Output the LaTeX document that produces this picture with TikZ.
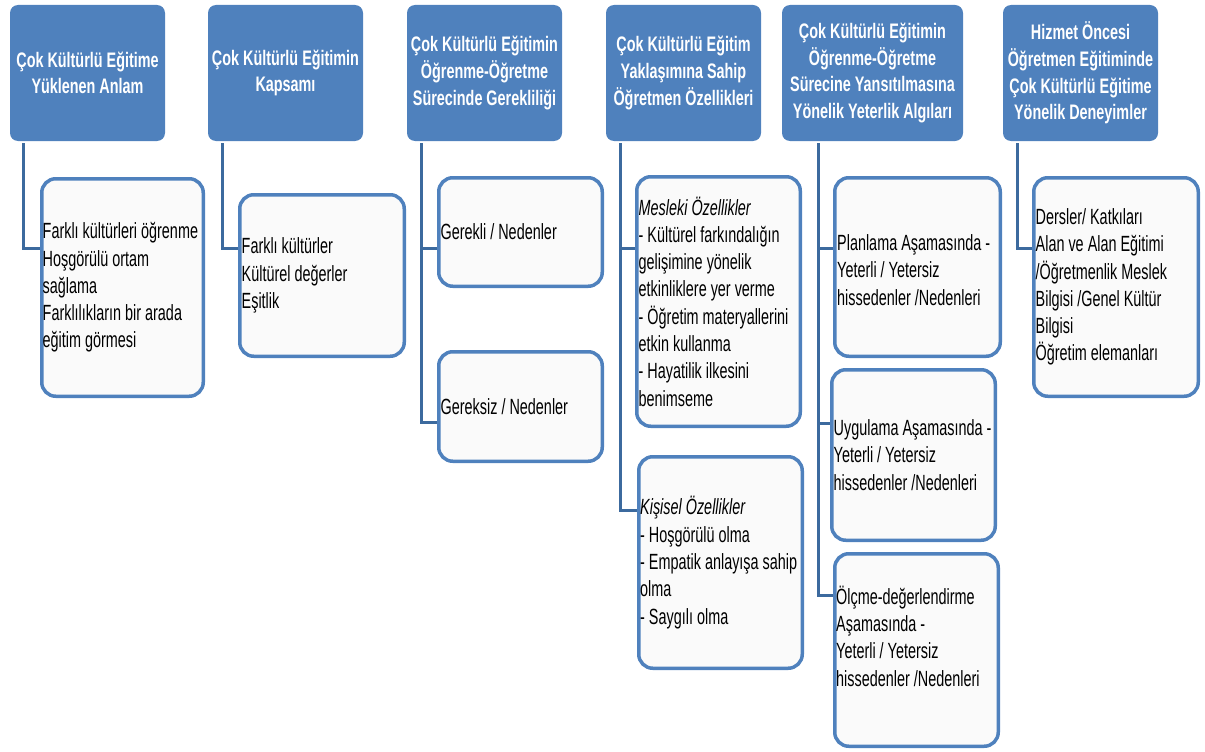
\documentclass[tikz,border=0pt]{standalone}
\usepackage{fontspec}
\setmainfont{Liberation Sans}[FakeStretch=0.655]
\newfontfamily\hdrfont{Liberation Sans}[FakeStretch=0.685]
\definecolor{hdr}{HTML}{4F81BD}
\definecolor{bord}{HTML}{4F81BD}
\definecolor{conn}{HTML}{3C6A9E}
\tikzset{
 hdrbox/.style={rectangle, rounded corners=8pt, fill=hdr, draw=none, text=white,
   font=\hdrfont\bfseries\fontsize{21}{26.7}\selectfont, align=center, inner sep=0pt,
   minimum height=136pt},
 childbox/.style={rectangle, rounded corners=14pt, draw=bord, line width=3.5pt,
   fill=white!98!black, inner sep=0pt},
 lbl/.style={anchor=west, align=left, inner sep=0pt, text=black,
   font=\fontsize{22}{27.3}\selectfont},
 connline/.style={draw=conn, line width=3pt}
}
\begin{document}
\begin{tikzpicture}[x=1pt,y=-1pt]
\useasboundingbox (0,0) rectangle (1205,752);
% headers
\node[hdrbox, minimum width=155pt] (h1) at (87.5,73) {Çok Kültürlü Eğitime\\Yüklenen Anlam};
\node[hdrbox, minimum width=155pt] (h2) at (285.5,73) {Çok Kültürlü Eğitimin\\Kapsamı};
\node[hdrbox, minimum width=155pt] (h3) at (484.5,73) {Çok Kültürlü Eğitimin\\Öğrenme-Öğretme\\Sürecinde Gerekliliği};
\node[hdrbox, minimum width=155pt] (h4) at (683.5,73) {Çok Kültürlü Eğitim\\Yaklaşımına Sahip\\Öğretmen Özellikleri};
\node[hdrbox, minimum width=181pt] (h5) at (872.5,73) {Çok Kültürlü Eğitimin\\Öğrenme-Öğretme\\Sürecine Yansıtılmasına\\Yönelik Yeterlik Algıları};
\node[hdrbox, minimum width=155pt] (h6) at (1080.5,73) {Hizmet Öncesi\\Öğretmen Eğitiminde\\Çok Kültürlü Eğitime\\Yönelik Deneyimler};
% child boxes
\node[childbox, minimum width=161.5pt, minimum height=217.5pt] (c1) at (122.5,287.5) {};
\node[childbox, minimum width=164.5pt, minimum height=161.5pt] (c2) at (322,275.5) {};
\node[childbox, minimum width=163.5pt, minimum height=108.5pt] (c3a) at (520.5,232) {};
\node[childbox, minimum width=163.5pt, minimum height=109.5pt] (c3b) at (520.5,406.5) {};
\node[childbox, minimum width=163.5pt, minimum height=249.5pt] (c4a) at (718.5,301.5) {};
\node[childbox, minimum width=163.5pt, minimum height=211.5pt] (c4b) at (720.5,562.5) {};
\node[childbox, minimum width=165.5pt, minimum height=178.5pt] (c5a) at (917.5,267) {};
\node[childbox, minimum width=163.5pt, minimum height=170.5pt] (c5b) at (913.5,455) {};
\node[childbox, minimum width=163.5pt, minimum height=192.5pt] (c5c) at (916.5,650) {};
\node[childbox, minimum width=164.5pt, minimum height=218.5pt] (c6) at (1116,287) {};
% labels
\node[lbl] (t1) at ([xshift=2.5pt]c1.west) {Farklı kültürleri öğrenme\\Hoşgörülü ortam\\sağlama\\Farklılıkların bir arada\\eğitim görmesi};
\node[lbl] (t2) at ([xshift=3.5pt]c2.west) {Farklı kültürler\\Kültürel değerler\\Eşitlik};
\node[lbl] (t3a) at ([xshift=3.5pt]c3a.west) {Gerekli / Nedenler};
\node[lbl] (t3b) at ([xshift=3.5pt]c3b.west) {Gereksiz / Nedenler};
\node[lbl] (t4a) at ([xshift=3.5pt]c4a.west) {\textit{Mesleki Özellikler}\\- Kültürel farkındalığın\\gelişimine yönelik\\etkinliklere yer verme\\- Öğretim materyallerini\\etkin kullanma\\- Hayatilik ilkesini\\benimseme};
\node[lbl] (t4b) at ([xshift=3pt]c4b.west) {\textit{Kişisel Özellikler}\\- Hoşgörülü olma\\- Empatik anlayışa sahip\\olma\\- Saygılı olma};
\node[lbl] (t5a) at ([xshift=4pt,yshift=-3pt]c5a.west) {Planlama Aşamasında -\\Yeterli / Yetersiz\\hissedenler /Nedenleri};
\node[lbl] (t5b) at ([xshift=3.5pt]c5b.west) {Uygulama Aşamasında -\\Yeterli / Yetersiz\\hissedenler /Nedenleri};
\node[lbl] (t5c) at ([xshift=3pt,yshift=14pt]c5c.west) {Ölçme-değerlendirme\\Aşamasında -\\Yeterli / Yetersiz\\hissedenler /Nedenleri};
\node[lbl] (t6) at ([xshift=3.5pt]c6.west) {Dersler/ Katkıları\\Alan ve Alan Eğitimi\\/Öğretmenlik Meslek\\Bilgisi /Genel Kültür\\Bilgisi\\Öğretim elemanları};
% junctions
\coordinate (j1) at (23,248);
\coordinate (j2) at (222,248);
\coordinate (j3a) at (421,248);
\coordinate (j3b) at (421,422);
\coordinate (j4a) at (620,248);
\coordinate (j4b) at (620,510);
\coordinate (j5a) at (818,248);
\coordinate (j5b) at (818,423);
\coordinate (j5c) at (818,595);
\coordinate (j6) at (1017,248);
% connectors
\draw[connline] ([yshift=-2pt]h1.south -| j1) -- (j1) -- (j1 -| c1.west);
\draw[connline] ([yshift=-2pt]h2.south -| j2) -- (j2) -- (j2 -| c2.west);
\draw[connline] ([yshift=-2pt]h3.south -| j3a) -- (j3b) -- (j3b -| c3b.west);
\draw[connline] (j3a) -- (j3a -| c3a.west);
\draw[connline] ([yshift=-2pt]h4.south -| j4a) -- (j4b) -- (j4b -| c4b.west);
\draw[connline] (j4a) -- (j4a -| c4a.west);
\draw[connline] ([yshift=-2pt]h5.south -| j5a) -- (j5c) -- (j5c -| c5c.west);
\draw[connline] (j5a) -- (j5a -| c5a.west);
\draw[connline] (j5b) -- (j5b -| c5b.west);
\draw[connline] ([yshift=-2pt]h6.south -| j6) -- (j6) -- (j6 -| c6.west);
\end{tikzpicture}
\end{document}
